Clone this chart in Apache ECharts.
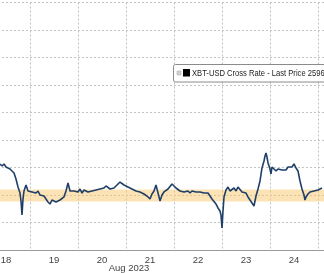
<!DOCTYPE html>
<html><head><meta charset="utf-8">
<script src="https://cdn.jsdelivr.net/npm/echarts@6/dist/echarts.min.js"></script>
<style>html,body{margin:0;padding:0;background:#fff}#c{width:324px;height:273px}</style>
</head><body><div id="c"></div>
<script>
const times = [
'2023-08-18T09:00','2023-08-18T10:00','2023-08-18T11:00','2023-08-18T12:00','2023-08-18T13:00','2023-08-18T14:00','2023-08-18T15:00','2023-08-18T16:00','2023-08-18T17:00','2023-08-18T18:00','2023-08-18T19:00','2023-08-18T19:30','2023-08-18T20:00','2023-08-18T20:30','2023-08-18T21:00','2023-08-18T22:00','2023-08-18T22:30','2023-08-18T23:00',
'2023-08-19T00:00','2023-08-19T01:00','2023-08-19T02:00','2023-08-19T03:00','2023-08-19T04:00','2023-08-19T05:00','2023-08-19T06:00','2023-08-19T07:00','2023-08-19T08:00','2023-08-19T09:00','2023-08-19T10:00','2023-08-19T11:00','2023-08-19T12:00','2023-08-19T13:00','2023-08-19T14:00','2023-08-19T15:00','2023-08-19T16:00','2023-08-19T17:00','2023-08-19T18:00','2023-08-19T19:00','2023-08-19T20:00','2023-08-19T21:00','2023-08-19T22:00','2023-08-19T23:00',
'2023-08-20T00:00','2023-08-20T01:00','2023-08-20T02:00','2023-08-20T03:00','2023-08-20T04:00','2023-08-20T05:00','2023-08-20T06:00','2023-08-20T07:00','2023-08-20T08:00','2023-08-20T09:00','2023-08-20T10:00','2023-08-20T11:00','2023-08-20T12:00','2023-08-20T13:00','2023-08-20T14:00','2023-08-20T15:00','2023-08-20T16:00','2023-08-20T17:00','2023-08-20T18:00','2023-08-20T19:00','2023-08-20T20:00','2023-08-20T21:00','2023-08-20T22:00','2023-08-20T23:00',
'2023-08-21T00:00','2023-08-21T01:00','2023-08-21T02:00','2023-08-21T03:00','2023-08-21T04:00','2023-08-21T05:00','2023-08-21T06:00','2023-08-21T07:00','2023-08-21T08:00','2023-08-21T09:00','2023-08-21T10:00','2023-08-21T11:00','2023-08-21T12:00','2023-08-21T13:00','2023-08-21T14:00','2023-08-21T15:00','2023-08-21T16:00','2023-08-21T17:00','2023-08-21T18:00','2023-08-21T19:00','2023-08-21T20:00','2023-08-21T21:00','2023-08-21T22:00','2023-08-21T23:00',
'2023-08-22T00:00','2023-08-22T01:00','2023-08-22T02:00','2023-08-22T03:00','2023-08-22T04:00','2023-08-22T05:00','2023-08-22T06:00','2023-08-22T07:00','2023-08-22T08:00','2023-08-22T09:00','2023-08-22T10:00','2023-08-22T11:00','2023-08-22T12:00','2023-08-22T13:00','2023-08-22T14:00','2023-08-22T15:00','2023-08-22T16:00','2023-08-22T17:00','2023-08-22T18:00','2023-08-22T19:00','2023-08-22T20:00','2023-08-22T21:00','2023-08-22T22:00','2023-08-22T23:00','2023-08-22T23:30',
'2023-08-23T00:00','2023-08-23T00:30','2023-08-23T01:00','2023-08-23T02:00','2023-08-23T03:00','2023-08-23T04:00','2023-08-23T05:00','2023-08-23T06:00','2023-08-23T07:00','2023-08-23T08:00','2023-08-23T09:00','2023-08-23T10:00','2023-08-23T11:00','2023-08-23T12:00','2023-08-23T13:00','2023-08-23T14:00','2023-08-23T15:00','2023-08-23T16:00','2023-08-23T17:00','2023-08-23T18:00','2023-08-23T19:00','2023-08-23T20:00','2023-08-23T21:00','2023-08-23T21:30','2023-08-23T22:00','2023-08-23T22:30','2023-08-23T23:00',
'2023-08-24T00:00','2023-08-24T00:30','2023-08-24T01:00','2023-08-24T02:00','2023-08-24T03:00','2023-08-24T04:00','2023-08-24T05:00','2023-08-24T06:00','2023-08-24T07:00','2023-08-24T08:00','2023-08-24T09:00','2023-08-24T10:00','2023-08-24T11:00','2023-08-24T12:00','2023-08-24T13:00','2023-08-24T14:00','2023-08-24T15:00','2023-08-24T16:00','2023-08-24T17:00','2023-08-24T17:30','2023-08-24T18:00','2023-08-24T19:00','2023-08-24T20:00','2023-08-24T21:00','2023-08-24T22:00','2023-08-24T23:00',
'2023-08-25T00:00','2023-08-25T01:00','2023-08-25T02:00'
];
const prices = [
26564,26527,26564,26509,26545,26473,26491,26400,26291,26145,26036,25891,25636,25927,26073,26182,26218,26073,
26109,26055,26091,26036,26073,26000,25964,25982,25927,25873,25836,25909,25891,25873,25891,25909,25927,25964,26073,26218,26073,26109,26073,26091,
26055,26109,26036,26091,26073,26055,26091,26073,26109,26091,26127,26109,26145,26127,26164,26145,26109,26145,26127,26164,26200,26236,26255,26182,
26200,26145,26164,26109,26127,26073,26091,26055,26073,26018,26036,25964,25927,26018,26073,26182,26036,25891,26000,26055,26073,26109,26127,26200,
26218,26127,26109,26073,26091,26055,26036,26073,26036,26073,26091,26055,26073,26055,26073,26036,26055,26036,26000,25927,25891,25836,25764,25709,25636,
25400,25709,25964,26091,26145,26073,26091,26127,26073,26145,26109,26055,26073,26036,25964,25909,25855,25800,25982,26109,26255,26491,26618,26709,26764,26691,26582,
26473,26382,26509,26527,26436,26473,26491,26455,26473,26455,26509,26527,26509,26564,26491,26436,26255,26109,26000,25909,25964,26018,26055,26036,26073,26055,
26091,26109,26127
];
const dayLabels = ['18','19','20','21','22','23','24'];
const monthLabel = 'Aug 2023';
const legendText = 'XBT-USD Cross Rate - Last Price 2596';
const bandLow = 25880, bandHigh = 26100;

const origin = new Date('2023-08-18T00:00').getTime();
const seriesData = times.map((t, i) => [(new Date(t).getTime() - origin) / 3600000, prices[i]]);

const chart = echarts.init(document.getElementById('c'), null, {renderer: 'canvas'});
const grid = '#c2c2c2';
chart.setOption({
  animation: false,
  grid: {left: -18, width: 342, top: 2.5, bottom: 23, outerBoundsMode: 'none', containLabel: false},
  xAxis: [{
    type: 'value', position: 'bottom', min: 0, max: 171, interval: 24,
    axisLine: {show: true, lineStyle: {color: '#9a9a9a', width: 1}},
    axisTick: {show: false}, axisLabel: {show: false},
    splitLine: {show: true, lineStyle: {color: grid, type: [2, 2], width: 1}}
  }, {
    type: 'value', position: 'bottom', min: 0, max: 171, interval: 12,
    axisLine: {show: false}, axisTick: {show: false}, splitLine: {show: false},
    axisLabel: {
      show: true, margin: 5, color: '#444', fontSize: 9.5, fontFamily: 'Liberation Sans',
      formatter: v => (v % 24 === 12 ? dayLabels[(v - 12) / 24] || '' : '')
    }
  }],
  yAxis: {
    type: 'value', min: 25000, max: 29500, interval: 500,
    axisLine: {show: false}, axisTick: {show: false}, axisLabel: {show: false},
    splitLine: {show: true, lineStyle: {color: grid, type: [2, 2], width: 1}}
  },
  series: [{
    type: 'line', xAxisIndex: 0, data: seriesData, showSymbol: false,
    lineStyle: {color: '#1f3f69', width: 1.6},
    markArea: {
      silent: true, z: 3,
      itemStyle: {color: 'rgba(247,200,110,0.5)'},
      data: [[{yAxis: bandLow}, {yAxis: bandHigh}]]
    }
  }],
  graphic: [
    {type: 'text', x: 129, y: 268.5, style: {text: monthLabel, fill: '#444', font: '9.5px "Liberation Sans"', align: 'center', verticalAlign: 'middle'}},
    {type: 'rect', shape: {x: 173.5, y: 64.5, width: 170, height: 17.5, r: 2}, style: {fill: '#fff', stroke: '#8a8a8a', lineWidth: 1}, z: 10},
    {type: 'rect', shape: {x: 177, y: 71, width: 4, height: 4}, style: {fill: '#d0d0d0', stroke: '#a8a8a8', lineWidth: 0.5}, z: 11},
    {type: 'rect', shape: {x: 183, y: 69, width: 7, height: 7.5}, style: {fill: '#000'}, z: 11},
    {type: 'text', x: 192, y: 73.5, scaleX: 0.8, z: 11, style: {text: legendText, fill: '#222', font: '9.5px "Liberation Sans"', verticalAlign: 'middle'}}
  ]
});
</script></body></html>
